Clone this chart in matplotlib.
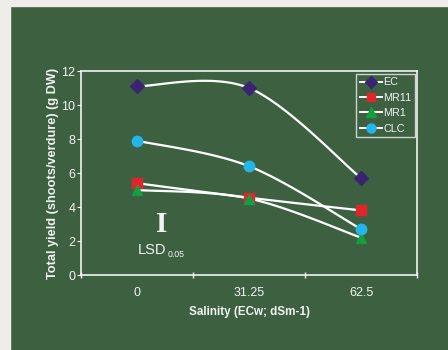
import numpy as np
import matplotlib
matplotlib.use("Agg")
import matplotlib.pyplot as plt
from matplotlib.patches import Rectangle
from matplotlib.lines import Line2D

# ---- data ----
categories = ["0", "31.25", "62.5"]
ec = [11.1, 11.0, 5.7]
mr11 = [5.4, 4.55, 3.8]
mr1 = [5.0, 4.5, 2.2]
clc = [7.9, 6.4, 2.7]
yticks = [0, 2, 4, 6, 8, 10, 12]

GREEN = "#3d6140"
GRAY = "#eeede9"
WHITE = "#f2f2f2"
plt.rcParams["font.family"] = ["Liberation Sans", "DejaVu Sans"]

fig = plt.figure(figsize=(4.48, 3.5), dpi=100, facecolor=GREEN)
fig.patches.append(Rectangle((0, 0), 10/448, 1, transform=fig.transFigure, color=GRAY, zorder=-10))
fig.patches.append(Rectangle((0, 1-6/350), 1, 6/350, transform=fig.transFigure, color=GRAY, zorder=-10))

ax = fig.add_axes([81/448, 1-275/350, 336/448, 204/350])
ax.set_facecolor(GREEN)

x = np.arange(len(categories)) + 0.5


def smooth(xs, ys, n=40):
    # Excel-style smoothed line (cubic Bezier with Catmull-Rom control points)
    P = np.column_stack([xs, ys]).astype(float)
    out = []
    for i in range(len(P) - 1):
        p0 = P[i - 1] if i > 0 else P[i]
        p1, p2 = P[i], P[i + 1]
        p3 = P[i + 2] if i + 2 < len(P) else P[i + 1]
        c1 = p1 + (p2 - p0) / 6
        c2 = p2 - (p3 - p1) / 6
        t = np.linspace(0, 1, n)[:, None]
        seg = (1-t)**3*p1 + 3*(1-t)**2*t*c1 + 3*(1-t)*t**2*c2 + t**3*p2
        out.append(seg if i == 0 else seg[1:])
    s = np.vstack(out)
    return s[:, 0], s[:, 1]


series = [
    ("EC", ec, "D", "#3a2470", 7),
    ("MR11", mr11, "s", "#e0262c", 7),
    ("MR1", mr1, "^", "#12a040", 7.5),
    ("CLC", clc, "o", "#22b6ea", 7.5),
]
for name, vals, mk, col, ms in series:
    sx, sy = smooth(x, vals)
    ax.plot(sx, sy, color="white", lw=1.6, zorder=2)
    ax.plot(x, vals, linestyle="none", marker=mk, color=col, ms=ms, mec=col, zorder=3)

handles = [Line2D([0], [0], color="white", lw=1.4, marker=mk, ms=ms-1, mfc=col, mec=col)
           for name, vals, mk, col, ms in series]
leg = ax.legend(handles, [s[0] for s in series], loc="upper right",
                bbox_to_anchor=(0.995, 0.987), fontsize=7.8, frameon=True,
                fancybox=False, handlelength=2.0, handletextpad=0.15,
                labelspacing=0.5, borderpad=0.35, borderaxespad=0)
leg.get_frame().set_facecolor(GREEN)
leg.get_frame().set_edgecolor(WHITE)
leg.get_frame().set_linewidth(1.0)
for t in leg.get_texts():
    t.set_color(WHITE)

ax.set_xlim(0, 3)
ax.set_ylim(0, 12)
ax.set_xticks(x)
ax.set_xticklabels(categories)
ax.set_xticks([0, 1, 2, 3], minor=True)
ax.set_yticks(yticks)
ax.tick_params(axis="x", which="major", length=0, pad=9, labelsize=9, colors=WHITE)
ax.tick_params(axis="x", which="minor", direction="inout", length=5, color=WHITE, width=1)
ax.tick_params(axis="y", length=3, direction="out", pad=1, labelsize=9, colors=WHITE)
for sp in ax.spines.values():
    sp.set_color(WHITE)
    sp.set_linewidth(1.2)

ax.set_xlabel("Salinity (ECw; dSm-1)", fontsize=8.4, fontweight="bold", color=WHITE, labelpad=5)
ax.set_ylabel("Total yield (shoots/verdure) (g DW)", fontsize=9.2, fontweight="bold", color=WHITE, labelpad=2)

# LSD marker
ax.text(0.72, 2.95, "I", family=["Liberation Serif", "DejaVu Serif"], fontsize=21,
        fontweight="bold", color=WHITE, ha="center", va="center")
ax.text(0.51, 1.25, "LSD", fontsize=10.5, color=WHITE, ha="left", va="baseline")
ax.text(0.77, 1.05, "0.05", fontsize=6.3, color=WHITE, ha="left", va="baseline")

fig.savefig("out.png", dpi=100, facecolor=GREEN)
